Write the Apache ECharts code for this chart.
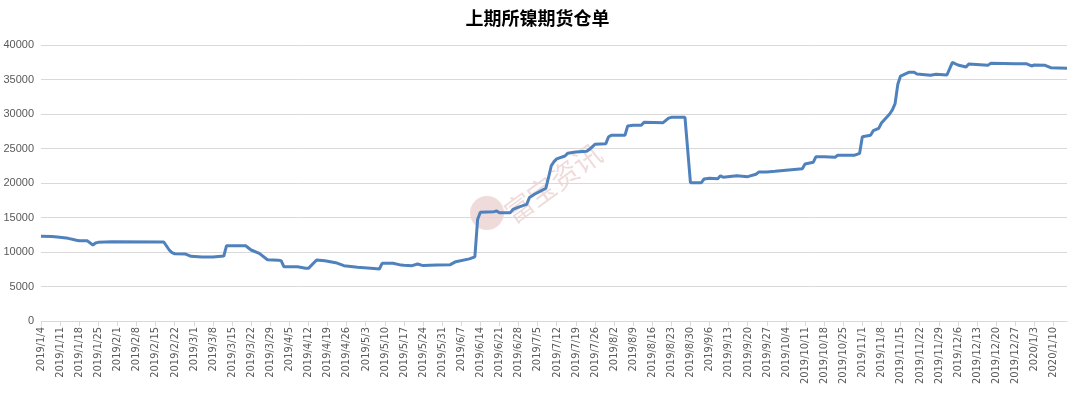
<!DOCTYPE html>
<html>
<head>
<meta charset="utf-8">
<script src="https://cdn.jsdelivr.net/npm/echarts@6/dist/echarts.min.js"></script>
<style>
html,body{margin:0;padding:0;background:#fff;}
#chart{width:1075px;height:394px;}
</style>
</head>
<body>
<div id="chart"></div>
<script>
// ---- data ----
const title = '上期所镍期货仓单';
const dates = [
  '2019/1/4','2019/1/8','2019/1/10','2019/1/14','2019/1/17','2019/1/18','2019/1/21','2019/1/23','2019/1/24','2019/1/25',
  '2019/1/30','2019/2/18','2019/2/20','2019/2/21','2019/2/22','2019/2/26','2019/2/28','2019/3/4','2019/3/8','2019/3/12',
  '2019/3/13','2019/3/19','2019/3/20','2019/3/22','2019/3/25','2019/3/28','2019/4/1','2019/4/2','2019/4/3','2019/4/8',
  '2019/4/11','2019/4/12','2019/4/15','2019/4/18','2019/4/22','2019/4/25','2019/4/30','2019/5/6','2019/5/8','2019/5/9',
  '2019/5/13','2019/5/16','2019/5/17','2019/5/20','2019/5/22','2019/5/24','2019/5/29','2019/6/3','2019/6/5','2019/6/10',
  '2019/6/12','2019/6/13','2019/6/14','2019/6/19','2019/6/20','2019/6/21','2019/6/25','2019/6/26','2019/6/28','2019/7/1',
  '2019/7/2','2019/7/4','2019/7/8','2019/7/9','2019/7/10','2019/7/11','2019/7/12','2019/7/15','2019/7/16','2019/7/19',
  '2019/7/23','2019/7/24','2019/7/26','2019/7/30','2019/7/31','2019/8/1','2019/8/6','2019/8/7','2019/8/9','2019/8/12',
  '2019/8/13','2019/8/20','2019/8/22','2019/8/23','2019/8/28','2019/8/30','2019/9/3','2019/9/4','2019/9/6','2019/9/9',
  '2019/9/10','2019/9/11','2019/9/16','2019/9/20','2019/9/23','2019/9/24','2019/9/27','2019/9/30','2019/10/8','2019/10/10',
  '2019/10/11','2019/10/14','2019/10/15','2019/10/18','2019/10/22','2019/10/23','2019/10/29','2019/10/31','2019/11/1','2019/11/4',
  '2019/11/5','2019/11/7','2019/11/8','2019/11/11','2019/11/12','2019/11/13','2019/11/14','2019/11/15','2019/11/18','2019/11/20',
  '2019/11/21','2019/11/26','2019/11/28','2019/12/2','2019/12/4','2019/12/6','2019/12/9','2019/12/10','2019/12/17','2019/12/18',
  '2019/12/27','2019/12/31','2020/1/2','2020/1/3','2020/1/7','2020/1/9','2020/1/15'
];
const values = [
  12300,12250,12170,11980,11700,11640,11620,11010,11300,11400,
  11490,11450,10290,9900,9750,9700,9370,9280,9280,9420,
  10910,10910,10900,10290,9810,8880,8790,8750,7870,7870,
  7650,7630,8840,8740,8450,8020,7780,7600,7540,8360,
  8360,8100,8070,8020,8260,8030,8120,8170,8600,9000,
  9300,14700,15750,15850,15940,15700,15700,16180,16500,16900,
  17900,18400,19230,20800,22500,23100,23500,23910,24300,24490,
  24590,24880,25600,25700,26700,26910,26910,28260,28360,28360,
  28800,28740,29400,29520,29520,20040,20040,20580,20680,20630,
  21060,20830,21060,20920,21260,21590,21590,21700,22000,22070,
  22750,23000,23810,23810,23720,24010,24010,24300,26710,26910,
  27580,27920,28700,30000,30600,31500,34300,35500,36040,36040,
  35800,35610,35750,35650,37490,37100,36810,37250,37050,37340,
  37300,37300,36960,37100,37050,36710,36620
];
const axisStart = '2019/1/4';   // first tick label
const axisEnd = '2020/1/15';    // end of axis
const tickStepDays = 7;
const yTicks = [0,5000,10000,15000,20000,25000,30000,35000,40000];
const watermark = '富宝资讯';

// ---- helpers ----
function toUTC(s){const p=s.split('/').map(Number);return Date.UTC(p[0],p[1]-1,p[2]);}
const DAY = 86400000;
const t0 = toUTC(axisStart);
function dayOf(s){return Math.round((toUTC(s)-t0)/DAY);}
function labelOf(d){const dt=new Date(t0+d*DAY);return dt.getUTCFullYear()+'/'+(dt.getUTCMonth()+1)+'/'+dt.getUTCDate();}
const maxDay = dayOf(axisEnd);
const tickDays = [];
for(let d=0; d<=maxDay; d+=tickStepDays) tickDays.push(d);
const seriesData = dates.map((s,i)=>[dayOf(s), values[i]]);

const chart = echarts.init(document.getElementById('chart'), null, {renderer:'canvas'});
chart.setOption({
  animation:false,
  backgroundColor:'#fff',
  title:{
    text:title, left:'center', top:4,
    textStyle:{fontFamily:'Noto Sans CJK SC', fontSize:18, fontWeight:'bold', color:'#000'}
  },
  grid:{left:41, right:8, top:45, bottom:73, containLabel:false},
  xAxis:{
    type:'value', min:0, max:maxDay, interval:tickStepDays,
    axisLine:{show:true, lineStyle:{color:'#d9d9d9', width:1}},
    axisTick:{show:true, customValues:tickDays, length:5, lineStyle:{color:'#d9d9d9'}},
    splitLine:{show:false},
    axisLabel:{
      customValues:tickDays, rotate:90, margin:6,
      fontFamily:'DejaVu Sans Condensed, Liberation Sans, sans-serif', fontSize:11, color:'#595959',
      formatter:(v)=>labelOf(v)
    }
  },
  yAxis:{
    type:'value', min:yTicks[0], max:yTicks[yTicks.length-1], interval:yTicks[1]-yTicks[0],
    axisLine:{show:false}, axisTick:{show:false},
    splitLine:{lineStyle:{color:'#d9d9d9', width:1}},
    axisLabel:{margin:7, fontFamily:'Liberation Sans, Arial, sans-serif', fontSize:11, color:'#595959',
      formatter:(v)=>String(v)}
  },
  graphic:[
    {type:'circle', shape:{cx:487, cy:213, r:17}, style:{fill:'rgba(196,110,110,0.25)'}, z:-1, silent:true},
    {type:'text', x:553, y:183, rotation:Math.PI/5, style:{text:watermark, fill:'rgba(196,110,110,0.25)', font:'28px "Noto Sans CJK SC"', align:'center', verticalAlign:'middle'}, z:-1, silent:true}
  ],
  series:[{
    type:'line', data:seriesData, showSymbol:false, symbol:'none',
    lineStyle:{color:'#4f81bd', width:3}, z:3
  }]
});
</script>
</body>
</html>
